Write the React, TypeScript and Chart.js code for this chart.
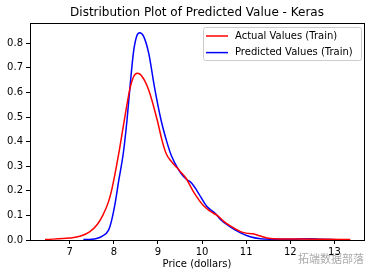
import { useEffect, useRef } from 'react';
import { Chart, registerables } from 'chart.js';

Chart.register(...registerables);

// Kernel density estimates of the training-set prices
const actualPrice = [6.44, 7.0, 7.25, 7.45, 7.62, 7.75, 7.88, 7.96, 8.11, 8.24, 8.37, 8.45, 8.53, 8.62, 8.79, 8.98, 9.1, 9.19, 9.3, 9.4, 9.5, 9.62, 9.81, 10.03, 10.2, 10.34, 10.5, 10.63, 10.86, 11.0, 11.15, 11.32, 11.47, 11.77, 12.2, 12.8, 13.36];
const actualDensity = [0.002, 0.008, 0.016, 0.033, 0.062, 0.1, 0.156, 0.21, 0.35, 0.49, 0.62, 0.665, 0.678, 0.67, 0.61, 0.49, 0.4, 0.35, 0.32, 0.3, 0.28, 0.255, 0.195, 0.14, 0.115, 0.1, 0.075, 0.058, 0.035, 0.028, 0.025, 0.016, 0.008, 0.004, 0.004, 0.003, 0.002];

const predictedPrice = [7.31, 7.5, 7.61, 7.73, 7.88, 7.95, 8.03, 8.11, 8.22, 8.3, 8.37, 8.45, 8.52, 8.585, 8.67, 8.79, 8.92, 9.07, 9.2, 9.3, 9.47, 9.58, 9.66, 9.76, 9.85, 9.92, 10.11, 10.3, 10.41, 10.63, 10.86, 11.09, 11.32, 11.6, 12.0, 12.4, 12.7, 13.05];
const predictedDensity = [0.002, 0.003, 0.006, 0.015, 0.04, 0.08, 0.15, 0.24, 0.36, 0.49, 0.63, 0.77, 0.83, 0.843, 0.83, 0.76, 0.623, 0.488, 0.4, 0.345, 0.285, 0.258, 0.245, 0.232, 0.21, 0.19, 0.136, 0.108, 0.085, 0.054, 0.03, 0.013, 0.005, 0.003, 0.003, 0.005, 0.003, 0.001];

const xTicks = [7, 8, 9, 10, 11, 12, 13];
const yTicks = [0, 0.1, 0.2, 0.3, 0.4, 0.5, 0.6, 0.7, 0.8];
const seriesLabels = ['Actual Values (Train)', 'Predicted Values (Train)'];
const seriesColors = ['#ff0000', '#0000ff'];
const chartTitle = 'Distribution Plot of Predicted Value - Keras';
const xAxisTitle = 'Price (dollars)';
const watermarkText = '拓端数据部落';

const FONT = '"DejaVu Sans", sans-serif';

const toPoints = (xs: number[], ys: number[]) => xs.map((x, i) => ({ x, y: ys[i] }));

// Title, axes frame, boxed legend and the corner watermark
const decorations = {
  id: 'decorations',
  afterDraw(chart: any) {
    const { ctx, chartArea } = chart;
    const { left, right, top, bottom } = chartArea;
    ctx.save();

    // frame around the plotting area
    ctx.strokeStyle = '#000';
    ctx.lineWidth = 1;
    ctx.strokeRect(Math.round(left) + 0.5, Math.round(top) + 0.5, Math.round(right - left), Math.round(bottom - top));

    // title
    ctx.fillStyle = '#000';
    ctx.font = `12px ${FONT}`;
    ctx.textAlign = 'center';
    ctx.textBaseline = 'middle';
    ctx.fillText(chartTitle, (left + right) / 2, top - 10);

    // legend box
    const bx = right - 161;
    const by = top + 4;
    const bw = 158;
    const bh = 33;
    ctx.beginPath();
    ctx.roundRect(bx + 0.5, by + 0.5, bw, bh, 2);
    ctx.fillStyle = 'rgba(255,255,255,0.8)';
    ctx.fill();
    ctx.strokeStyle = '#cccccc';
    ctx.lineWidth = 1;
    ctx.stroke();

    ctx.font = `10px ${FONT}`;
    ctx.textAlign = 'left';
    ctx.textBaseline = 'middle';
    chart.data.datasets.forEach((ds: any, i: number) => {
      const y = by + 9 + i * 16.6;
      ctx.strokeStyle = ds.borderColor;
      ctx.lineWidth = 1.5;
      ctx.beginPath();
      ctx.moveTo(bx + 3, y);
      ctx.lineTo(bx + 25, y);
      ctx.stroke();
      ctx.fillStyle = '#000';
      ctx.fillText(ds.label, bx + 32, y);
    });

    // watermark
    ctx.font = `11px "Noto Sans CJK SC", sans-serif`;
    ctx.textAlign = 'left';
    ctx.fillStyle = 'rgba(140,140,140,0.75)';
    ctx.fillText(watermarkText, 298, 259);
    ctx.restore();
  },
};

export default function App() {
  const canvasRef = useRef<HTMLCanvasElement | null>(null);

  useEffect(() => {
    document.body.style.margin = '0';
    const canvas = canvasRef.current;
    if (!canvas) return;

    const chart = new Chart(canvas, {
      type: 'line',
      data: {
        datasets: [
          {
            label: seriesLabels[0],
            data: toPoints(actualPrice, actualDensity),
            borderColor: seriesColors[0],
            backgroundColor: seriesColors[0],
            borderWidth: 1.5,
            pointRadius: 0,
            cubicInterpolationMode: 'monotone',
            fill: false,
          },
          {
            label: seriesLabels[1],
            data: toPoints(predictedPrice, predictedDensity),
            borderColor: seriesColors[1],
            backgroundColor: seriesColors[1],
            borderWidth: 1.5,
            pointRadius: 0,
            cubicInterpolationMode: 'monotone',
            fill: false,
          },
        ],
      },
      options: {
        animation: false,
        responsive: false,
        maintainAspectRatio: false,
        devicePixelRatio: 1,
        layout: { padding: { left: 0, right: 8, top: 23, bottom: 0 } },
        plugins: {
          legend: { display: false },
          title: { display: false },
          tooltip: { enabled: false },
        },
        scales: {
          x: {
            type: 'linear',
            min: 6.1,
            max: 13.67,
            afterFit: (s: any) => {
              s.height = 38;
            },
            afterBuildTicks: (s: any) => {
              s.ticks = xTicks.map((v) => ({ value: v }));
            },
            ticks: {
              color: '#000',
              font: { family: FONT, size: 10 },
              padding: 2,
              maxRotation: 0,
              callback: (v: any) => String(v),
            },
            grid: { drawOnChartArea: false, drawTicks: true, tickLength: 4, color: '#000', tickWidth: 1 },
            border: { display: true, color: '#000', width: 1 },
            title: {
              display: true,
              text: xAxisTitle,
              color: '#000',
              font: { family: FONT, size: 10 },
              padding: { top: 0, bottom: 7.5 },
            },
          },
          y: {
            type: 'linear',
            min: 0,
            max: 0.8825,
            afterFit: (s: any) => {
              s.width = 30;
            },
            afterBuildTicks: (s: any) => {
              s.ticks = yTicks.map((v) => ({ value: v }));
            },
            ticks: {
              color: '#000',
              font: { family: FONT, size: 10 },
              padding: 3,
              callback: (v: any) => Number(v).toFixed(1),
            },
            grid: { drawOnChartArea: false, drawTicks: true, tickLength: 4, color: '#000', tickWidth: 1 },
            border: { display: true, color: '#000', width: 1 },
          },
        },
      },
      plugins: [decorations],
    });

    return () => chart.destroy();
  }, []);

  return (
    <div style={{ width: 372, height: 278, background: '#fff' }}>
      <canvas ref={canvasRef} width={372} height={278} style={{ width: 372, height: 278, display: 'block' }} />
    </div>
  );
}
